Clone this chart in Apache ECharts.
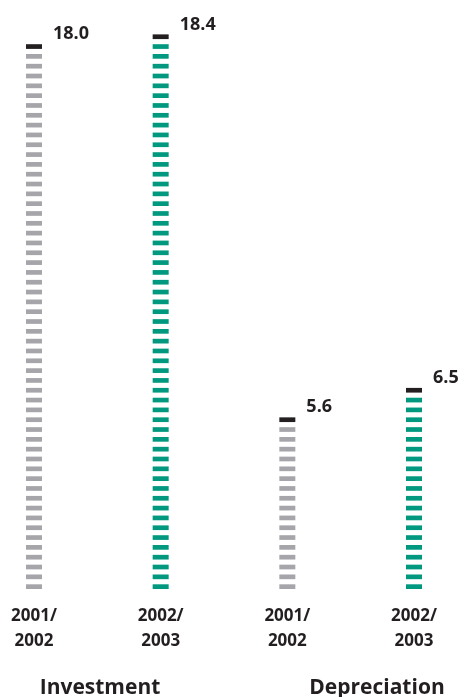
<!DOCTYPE html>
<html>
<head>
<meta charset="utf-8">
<script src="https://cdn.jsdelivr.net/npm/echarts@6/dist/echarts.min.js"></script>
<style>
  html, body { margin: 0; padding: 0; background: #fff; }
  #chart { width: 464px; height: 697px; }
</style>
</head>
<body>
<div id="chart"></div>
<script>
// data
var categories = ['2001/\n2002', '2002/\n2003', '2001/\n2002', '2002/\n2003'];
var values = [18.0, 18.4, 5.6, 6.5];
var groups = ['Investment', 'Depreciation'];

// styles
var YEAR_COLORS = ['#a6a6aa', '#00997f']; // 2001/2002 grey, 2002/2003 green
var CAP_COLOR = '#231f20';
var TEXT_COLOR = '#231f20';
var BAR_W = 16;
var STRIPE_H = 4.7;
var PERIOD = 9.82;
var FONT = '"Open Sans", "DejaVu Sans", sans-serif';

var chart = echarts.init(document.getElementById('chart'), null, { renderer: 'canvas' });

var option = {
  backgroundColor: '#ffffff',
  animation: false,
  grid: { left: 34, right: 50, top: 13, bottom: 108 },
  xAxis: {
    type: 'category',
    data: categories,
    boundaryGap: false,
    axisLine: { show: false },
    axisTick: { show: false },
    splitLine: { show: false },
    axisLabel: {
      interval: 0,
      margin: 15,
      color: TEXT_COLOR,
      fontFamily: FONT,
      fontWeight: 'bold',
      fontSize: 17,
      lineHeight: 25
    }
  },
  yAxis: {
    type: 'value',
    min: 0,
    max: 19,
    show: false
  },
  graphic: [
    {
      type: 'text', x: 100, y: 688,
      style: { text: groups[0], fill: TEXT_COLOR, font: 'bold 21px ' + FONT, textAlign: 'center', textVerticalAlign: 'middle', verticalAlign: 'middle' }
    },
    {
      type: 'text', x: 377, y: 688,
      style: { text: groups[1], fill: TEXT_COLOR, font: 'bold 21px ' + FONT, textAlign: 'center', textVerticalAlign: 'middle', verticalAlign: 'middle' }
    }
  ],
  series: [{
    type: 'custom',
    data: values.map(function (v, i) { return [i, v]; }),
    renderItem: function (params, api) {
      var idx = api.value(0);
      var v = api.value(1);
      var base = api.coord([idx, 0]);
      var top = api.coord([idx, v]);
      var color = YEAR_COLORS[idx % 2];
      // stripes from the bottom up, the last one is the dark cap
      var n = Math.round((base[1] - top[1] - STRIPE_H) / PERIOD);
      var children = [];
      for (var k = 0; k <= n; k++) {
        children.push({
          type: 'rect',
          shape: { x: base[0] - BAR_W / 2, y: base[1] - STRIPE_H - k * PERIOD, width: BAR_W, height: STRIPE_H },
          style: { fill: k === n ? CAP_COLOR : color }
        });
      }
      var capY = base[1] - STRIPE_H - n * PERIOD;
      children.push({
        type: 'text',
        style: {
          text: v.toFixed(1),
          x: base[0] + BAR_W / 2 + 11,
          y: capY - 10,
          verticalAlign: 'middle',
          font: 'bold 18px ' + FONT,
          fill: TEXT_COLOR
        }
      });
      return { type: 'group', children: children };
    }
  }]
};

chart.setOption(option);
</script>
</body>
</html>
